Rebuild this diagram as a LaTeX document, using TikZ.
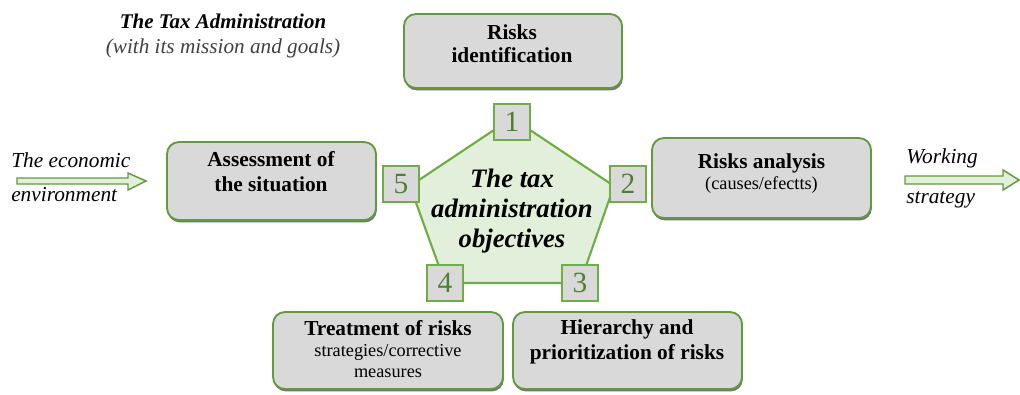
\documentclass[tikz,border=0pt]{standalone}
\usepackage{fontspec}
\setmainfont{Liberation Serif}
\usetikzlibrary{fit,shadows}
\definecolor{boxfill}{HTML}{D9D9D9}
\definecolor{boxline}{HTML}{649A3F}
\definecolor{sqline}{HTML}{70AD47}
\definecolor{pentfill}{HTML}{E2EFDA}
\definecolor{numcol}{HTML}{4F8030}
\definecolor{subgray}{HTML}{404040}
\begin{document}
\begin{tikzpicture}[x=0.75pt,y=-0.75pt,
  riskbox/.style={draw=boxline, line width=1.4pt, fill=boxfill, rounded corners=9pt, inner sep=0pt,
    drop shadow={shadow xshift=0.6pt, shadow yshift=-1.8pt, fill=black!60, opacity=0.9}},
  boldtext/.style={align=center, inner sep=0pt, font=\fontsize{16}{17.25}\selectfont\bfseries},
  mixtext/.style={align=center, inner sep=0pt, font=\fontsize{13.7}{15.75}\selectfont},
  numsq/.style={draw=sqline, line width=1.8pt, fill=boxfill, minimum size=27pt, inner sep=0pt,
    text=numcol, font=\fontsize{22}{24}\selectfont},
  sidelabel/.style={inner sep=0pt, anchor=base west, font=\fontsize{16}{18}\selectfont\itshape},
  flowarrow/.style={draw=boxline, line width=1.1pt, fill=pentfill}
]
\useasboundingbox (0,0) rectangle (1020,394);

% boxes
\node[riskbox, fit={(404,14) (622,88)}] (ident) {};
\node[riskbox, fit={(167,142) (376,220)}] (assess) {};
\node[riskbox, fit={(652,138) (871,218)}] (analysis) {};
\node[riskbox, fit={(273,312) (503,389)}] (treat) {};
\node[riskbox, fit={(513,312) (742,389)}] (hier) {};

\node[boldtext] (identtxt) at (512,44) {Risks\\identification};
\node[boldtext, font=\fontsize{16}{18.75}\selectfont\bfseries] (assesstxt) at (271,172) {Assessment of\\the situation};
\node[mixtext] (analysistxt) at (761.5,173.5) {{\fontsize{16}{16.5}\selectfont\bfseries Risks analysis}\\(causes/efectts)};
\node[mixtext] (treattxt) at (388,349) {{\fontsize{16}{16.5}\selectfont\bfseries Treatment of risks}\\strategies/corrective\\measures};
\node[boldtext, font=\fontsize{16}{18.75}\selectfont\bfseries] (hiertxt) at (627,342) {Hierarchy and\\prioritization of risks};

% pentagon
\coordinate (v1) at (512,118);
\coordinate (v2) at (614,186);
\coordinate (v3) at (580,283);
\coordinate (v4) at (445,283);
\coordinate (v5) at (410,186);
\draw[draw=sqline, line width=1.6pt, fill=pentfill, line join=miter] (v1) -- (v2) -- (v3) -- (v4) -- (v5) -- cycle;

\node[align=center, inner sep=0pt, font=\fontsize{20}{22.5}\selectfont\bfseries\itshape] (obj) at (512,211) {The tax\\administration\\objectives};

% number squares
\node[numsq] (s1) at (512,122) {1};
\node[numsq] (s2) at (628,184) {2};
\node[numsq] (s3) at (580,283) {3};
\node[numsq] (s4) at (445,283) {4};
\node[numsq] (s5) at (401,184) {5};

% top-left title
\node[inner sep=0pt, anchor=base, font=\fontsize{15.7}{18}\selectfont\bfseries\itshape] (taxadm) at (223,28) {The Tax Administration};
\node[inner sep=0pt, anchor=base, text=subgray, font=\fontsize{15.9}{18}\selectfont\itshape] (mission) at (223,53) {(with its mission and goals)};

% side labels
\node[sidelabel] (econ1) at (11,167) {The economic};
\node[sidelabel] (econ2) at (11,201) {environment};
\node[sidelabel] (work1) at (906,163) {Working};
\node[sidelabel] (work2) at (906,203) {strategy};

% hollow arrows
\draw[flowarrow] (17,178) -- (128,178) -- (128,173) -- (146,181) -- (128,190) -- (128,184) -- (17,184) -- cycle;
\draw[flowarrow] (905,176) -- (1003,176) -- (1003,170) -- (1019,180) -- (1003,190) -- (1003,184) -- (905,184) -- cycle;
\end{tikzpicture}
\end{document}
